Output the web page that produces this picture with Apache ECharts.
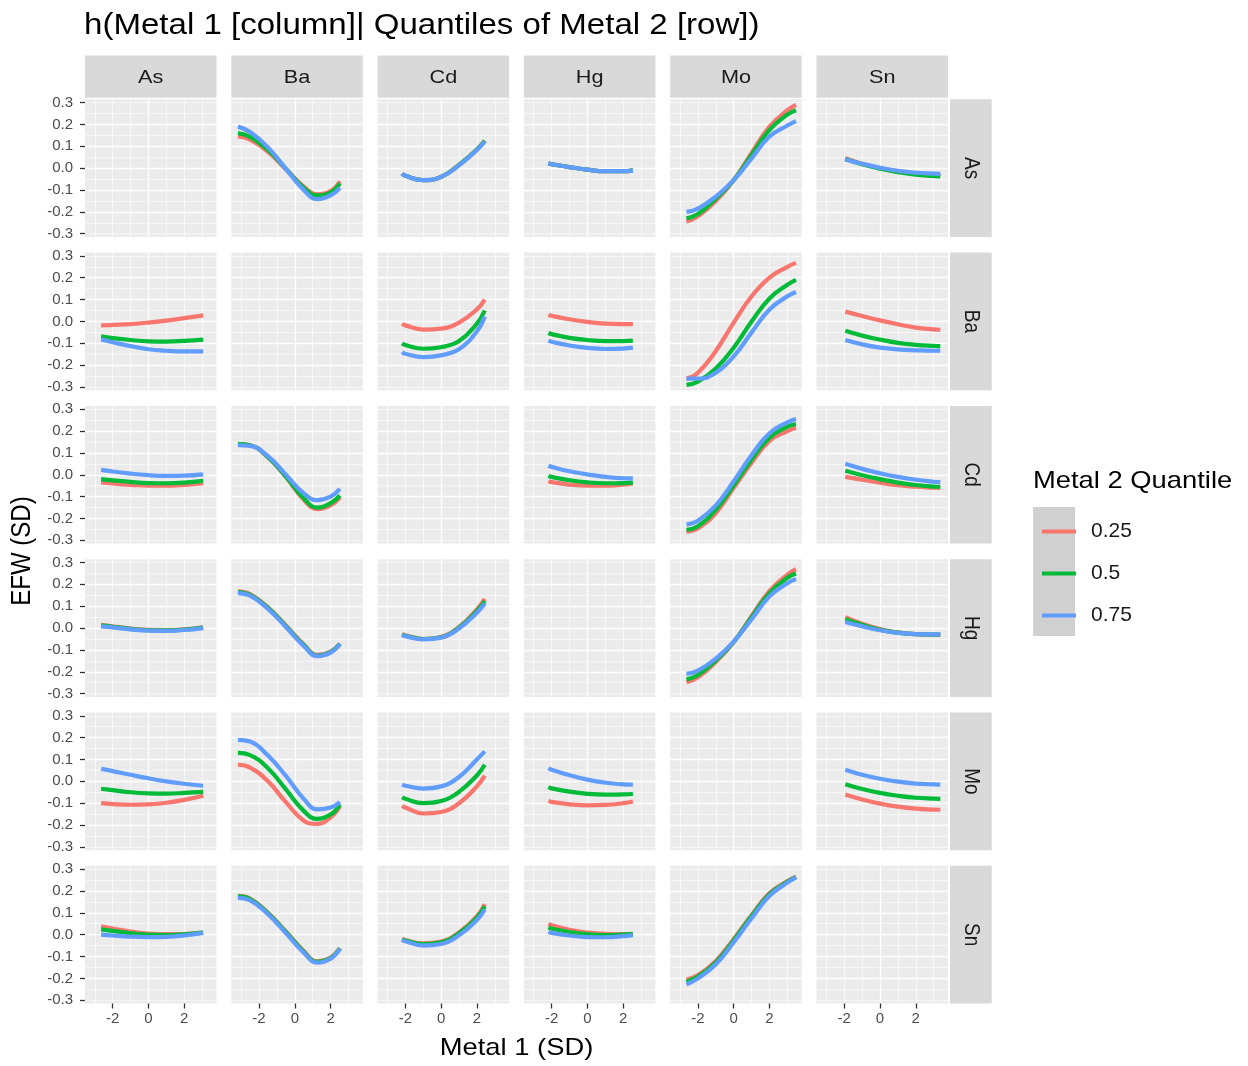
<!DOCTYPE html>
<html><head><meta charset="utf-8">
<script src="https://cdn.jsdelivr.net/npm/echarts@6/dist/echarts.min.js"></script>
<style>html,body{margin:0;padding:0;background:#fff}#c{width:1248px;height:1066px}</style>
</head><body><div id="c"></div>
<script>
// ---------- data ----------
const metals = ['As','Ba','Cd','Hg','Mo','Sn'];
const quantiles = ['0.25','0.5','0.75'];
const colors = ['#F8766D','#00BA38','#619CFF'];
const xTicks = [-2, 0, 2];
const yTicks = [-0.3, -0.2, -0.1, 0, 0.1, 0.2, 0.3];

// x positions (Metal 1, SD) at which each column's curves were read
const x_As = [-2.65, -2, -1, 0, 1, 2, 3.05];
const x_Ba = [-3.18, -2.5, -1.5, -0.5, 0.5, 1.25, 2, 2.52];
const x_Cd = [-2.18, -2, -1, 0, 1, 2, 2.44];
const x_Hg = [-2.18, -2, -1, 0, 1, 2, 2.54];
const x_Mo = [-2.64, -2, -1, 0, 1, 2, 3, 3.48];
const x_Sn = [-1.94, -1, 0, 1, 2, 3, 3.37];

// Rows = Metal 2; each array lists the columns As, Ba, Cd, Hg, Mo, Sn (Metal 1)
const As_q25 = [null,
  [0.145, 0.13, 0.075, -0.005, -0.085, -0.12, -0.105, -0.06],
  [-0.025, -0.035, -0.055, -0.04, 0.015, 0.085, 0.125],
  [0.022, 0.018, 0.005, -0.007, -0.014, -0.014, -0.01],
  [-0.245, -0.22, -0.15, -0.055, 0.07, 0.19, 0.265, 0.29],
  [0.045, 0.02, 0.0, -0.015, -0.025, -0.03, -0.035]];
const As_q50 = [null,
  [0.16, 0.143, 0.083, -0.003, -0.09, -0.125, -0.112, -0.07],
  [-0.025, -0.035, -0.055, -0.04, 0.015, 0.085, 0.125],
  [0.022, 0.018, 0.005, -0.007, -0.014, -0.014, -0.01],
  [-0.23, -0.21, -0.14, -0.055, 0.06, 0.175, 0.245, 0.265],
  [0.042, 0.018, -0.002, -0.018, -0.03, -0.036, -0.038]];
const As_q75 = [null,
  [0.19, 0.165, 0.095, -0.003, -0.1, -0.142, -0.125, -0.09],
  [-0.025, -0.035, -0.055, -0.04, 0.013, 0.083, 0.122],
  [0.022, 0.018, 0.005, -0.007, -0.014, -0.014, -0.01],
  [-0.2, -0.185, -0.13, -0.055, 0.045, 0.145, 0.195, 0.215],
  [0.04, 0.02, 0.002, -0.012, -0.021, -0.025, -0.026]];

const Ba_q25 = [
  [-0.018, -0.016, -0.012, -0.005, 0.004, 0.015, 0.028],
  null,
  [-0.01, -0.018, -0.037, -0.033, -0.005, 0.055, 0.1],
  [0.03, 0.026, 0.01, -0.002, -0.01, -0.012, -0.012],
  [-0.262, -0.235, -0.135, -0.005, 0.115, 0.2, 0.25, 0.268],
  [0.045, 0.025, 0.005, -0.013, -0.028, -0.036, -0.038]];
const Ba_q50 = [
  [-0.068, -0.076, -0.085, -0.091, -0.092, -0.089, -0.083],
  null,
  [-0.1, -0.108, -0.125, -0.118, -0.09, -0.01, 0.05],
  [-0.053, -0.058, -0.075, -0.085, -0.09, -0.09, -0.088],
  [-0.29, -0.275, -0.215, -0.12, 0.0, 0.105, 0.168, 0.19],
  [-0.043, -0.065, -0.083, -0.098, -0.107, -0.112, -0.113]];
const Ba_q75 = [
  [-0.082, -0.095, -0.113, -0.127, -0.134, -0.137, -0.137],
  null,
  [-0.14, -0.148, -0.163, -0.155, -0.127, -0.045, 0.023],
  [-0.088, -0.093, -0.11, -0.121, -0.126, -0.124, -0.12],
  [-0.262, -0.262, -0.235, -0.16, -0.05, 0.055, 0.115, 0.135],
  [-0.085, -0.105, -0.12, -0.128, -0.132, -0.134, -0.134]];

const Cd_q25 = [
  [-0.035, -0.04, -0.046, -0.05, -0.05, -0.046, -0.038],
  [0.14, 0.135, 0.08, -0.01, -0.115, -0.157, -0.14, -0.105],
  null,
  [-0.03, -0.034, -0.045, -0.05, -0.05, -0.045, -0.04],
  [-0.26, -0.245, -0.175, -0.06, 0.055, 0.155, 0.2, 0.215],
  [-0.01, -0.023, -0.036, -0.048, -0.055, -0.059, -0.06]];
const Cd_q50 = [
  [-0.02, -0.026, -0.033, -0.038, -0.039, -0.036, -0.028],
  [0.14, 0.135, 0.08, -0.008, -0.108, -0.15, -0.13, -0.095],
  null,
  [-0.005, -0.01, -0.025, -0.035, -0.039, -0.038, -0.036],
  [-0.252, -0.235, -0.16, -0.048, 0.07, 0.17, 0.22, 0.232],
  [0.018, -0.002, -0.02, -0.036, -0.047, -0.054, -0.055]];
const Cd_q75 = [
  [0.022, 0.015, 0.005, -0.002, -0.005, -0.004, 0.002],
  [0.135, 0.132, 0.085, 0.0, -0.085, -0.116, -0.1, -0.065],
  null,
  [0.041, 0.036, 0.016, 0.002, -0.01, -0.016, -0.017],
  [-0.228, -0.21, -0.14, -0.03, 0.09, 0.19, 0.24, 0.255],
  [0.05, 0.027, 0.007, -0.01, -0.023, -0.032, -0.034]];

const Hg_q25 = [
  [0.015, 0.008, -0.002, -0.008, -0.01, -0.006, 0.003],
  [0.168, 0.155, 0.095, 0.012, -0.075, -0.123, -0.108, -0.072],
  [-0.028, -0.033, -0.05, -0.04, 0.005, 0.085, 0.133],
  null,
  [-0.248, -0.225, -0.155, -0.065, 0.055, 0.17, 0.245, 0.27],
  [0.05, 0.02, -0.005, -0.02, -0.028, -0.031, -0.031]];
const Hg_q50 = [
  [0.012, 0.006, -0.004, -0.01, -0.011, -0.007, 0.002],
  [0.165, 0.152, 0.092, 0.009, -0.078, -0.126, -0.11, -0.072],
  [-0.03, -0.035, -0.05, -0.042, 0.002, 0.078, 0.123],
  null,
  [-0.235, -0.215, -0.148, -0.063, 0.05, 0.16, 0.23, 0.25],
  [0.04, 0.015, -0.008, -0.021, -0.028, -0.03, -0.03]];
const Hg_q75 = [
  [0.008, 0.003, -0.006, -0.012, -0.013, -0.009, 0.0],
  [0.16, 0.148, 0.088, 0.005, -0.082, -0.128, -0.112, -0.073],
  [-0.032, -0.037, -0.052, -0.044, -0.002, 0.07, 0.112],
  null,
  [-0.21, -0.195, -0.14, -0.062, 0.04, 0.145, 0.205, 0.224],
  [0.028, 0.008, -0.01, -0.022, -0.028, -0.029, -0.029]];

const Mo_q25 = [
  [-0.1, -0.104, -0.107, -0.105, -0.098, -0.085, -0.066],
  [0.076, 0.063, 0.0, -0.095, -0.18, -0.195, -0.165, -0.114],
  [-0.113, -0.12, -0.147, -0.14, -0.1, -0.023, 0.026],
  [-0.09, -0.094, -0.105, -0.11, -0.108, -0.1, -0.092],
  null,
  [-0.06, -0.083, -0.102, -0.116, -0.125, -0.129, -0.13]];
const Mo_q50 = [
  [-0.034, -0.04, -0.05, -0.055, -0.056, -0.053, -0.048],
  [0.13, 0.12, 0.06, -0.037, -0.135, -0.172, -0.152, -0.106],
  [-0.073, -0.08, -0.1, -0.09, -0.048, 0.027, 0.076],
  [-0.026, -0.032, -0.047, -0.057, -0.061, -0.06, -0.058],
  null,
  [-0.013, -0.035, -0.053, -0.066, -0.075, -0.079, -0.08]];
const Mo_q75 = [
  [0.057, 0.047, 0.03, 0.014, 0.0, -0.011, -0.02],
  [0.19, 0.182, 0.118, 0.025, -0.08, -0.128, -0.12, -0.095],
  [-0.015, -0.02, -0.033, -0.023, 0.02, 0.1, 0.137],
  [0.06, 0.053, 0.028, 0.008, -0.006, -0.014, -0.015],
  null,
  [0.053, 0.03, 0.012, -0.001, -0.01, -0.014, -0.015]];

const Sn_q25 = [
  [0.038, 0.028, 0.014, 0.005, 0.002, 0.003, 0.009],
  [0.178, 0.165, 0.1, 0.015, -0.075, -0.122, -0.105, -0.062],
  [-0.02, -0.025, -0.04, -0.032, 0.01, 0.085, 0.14],
  [0.049, 0.043, 0.022, 0.01, 0.004, 0.003, 0.004],
  [-0.205, -0.185, -0.12, -0.02, 0.09, 0.19, 0.245, 0.265],
  null];
const Sn_q50 = [
  [0.024, 0.017, 0.006, 0.0, -0.002, 0.001, 0.009],
  [0.175, 0.163, 0.098, 0.012, -0.078, -0.124, -0.107, -0.063],
  [-0.022, -0.027, -0.043, -0.035, 0.006, 0.078, 0.13],
  [0.033, 0.028, 0.012, 0.002, -0.002, 0.0, 0.002],
  [-0.215, -0.192, -0.127, -0.026, 0.085, 0.185, 0.242, 0.263],
  null];
const Sn_q75 = [
  [0.0, -0.004, -0.009, -0.011, -0.01, -0.004, 0.008],
  [0.168, 0.157, 0.093, 0.007, -0.083, -0.128, -0.11, -0.065],
  [-0.025, -0.03, -0.05, -0.043, -0.003, 0.067, 0.115],
  [0.012, 0.008, -0.004, -0.011, -0.012, -0.007, -0.002],
  [-0.228, -0.2, -0.135, -0.035, 0.075, 0.178, 0.238, 0.262],
  null];

// ---------- assembly ----------
const xByCol = [x_As, x_Ba, x_Cd, x_Hg, x_Mo, x_Sn];
const rowsData = [
  [As_q25, As_q50, As_q75],
  [Ba_q25, Ba_q50, Ba_q75],
  [Cd_q25, Cd_q50, Cd_q75],
  [Hg_q25, Hg_q50, Hg_q75],
  [Mo_q25, Mo_q50, Mo_q75],
  [Sn_q25, Sn_q50, Sn_q75]
];

const FONT = 'Liberation Sans';
const SX = 1.14; // horizontal stretch of the reference's lettering
const P = {left: 85, top: 99.3, w: 131.5, h: 137.7, dx: 146.3, dy: 153.3};
const X_MIN = -3.55, X_MAX = 3.8, Y_MIN = -0.315, Y_MAX = 0.315;

const isTick = (v, list) => list.some(t => Math.abs(t - v) < 1e-6);

const grids = [], xAxes = [], yAxes = [], series = [], graphics = [];

for (let r = 0; r < 6; r++) {
  for (let c = 0; c < 6; c++) {
    const g = r * 6 + c;
    grids.push({
      left: P.left + c * P.dx, top: P.top + r * P.dy, width: P.w, height: P.h,
      show: true, backgroundColor: '#EBEBEB', borderWidth: 0
    });
    const bottom = r === 5, leftCol = c === 0;
    // major x
    xAxes.push({
      gridIndex: g, type: 'value', min: X_MIN, max: X_MAX, splitNumber: 4, position: 'bottom',
      axisLine: {show: false, onZero: false},
      axisTick: {show: bottom, customValues: xTicks, length: 5, lineStyle: {color: '#333333', width: 1.3}},
      axisLabel: {show: bottom, margin: 8, showMinLabel: false, showMaxLabel: false,
        color: '#4D4D4D', fontSize: 15, fontFamily: FONT,
        formatter: v => isTick(v, xTicks) ? String(Math.round(v)) : ''},
      splitLine: {show: true, showMinLine: false, showMaxLine: false, lineStyle: {color: '#FFFFFF', width: 1.3}}
    });
    // minor x
    xAxes.push({
      gridIndex: g, type: 'value', min: X_MIN, max: X_MAX, splitNumber: 7,
      axisLine: {show: false, onZero: false}, axisTick: {show: false}, axisLabel: {show: false},
      splitLine: {show: true, showMinLine: false, showMaxLine: false, lineStyle: {color: '#FFFFFF', width: 0.6}}
    });
    // major y
    yAxes.push({
      gridIndex: g, type: 'value', min: Y_MIN, max: Y_MAX, splitNumber: 6, position: 'left',
      axisLine: {show: false, onZero: false},
      axisTick: {show: leftCol, customValues: yTicks, length: 5, lineStyle: {color: '#333333', width: 1.3}},
      axisLabel: {show: leftCol, margin: 12, showMinLabel: false, showMaxLabel: false,
        color: '#4D4D4D', fontSize: 15, fontFamily: FONT,
        formatter: v => isTick(v, yTicks) ? (Math.abs(v) < 1e-9 ? 0 : v).toFixed(1) : ''},
      splitLine: {show: true, showMinLine: false, showMaxLine: false, lineStyle: {color: '#FFFFFF', width: 1.3}}
    });
    // minor y
    yAxes.push({
      gridIndex: g, type: 'value', min: Y_MIN, max: Y_MAX, splitNumber: 12,
      axisLine: {show: false, onZero: false}, axisTick: {show: false}, axisLabel: {show: false},
      splitLine: {show: true, showMinLine: false, showMaxLine: false, lineStyle: {color: '#FFFFFF', width: 0.6}}
    });

    for (let q = 0; q < 3; q++) {
      const ys = rowsData[r][q][c];
      if (!ys) continue;
      const xs = xByCol[c];
      series.push({
        type: 'line', name: quantiles[q],
        xAxisIndex: 2 * g, yAxisIndex: 2 * g,
        data: xs.map((x, i) => [x, ys[i]]),
        smooth: 0.45, symbol: 'none', silent: true, z: 3 + q,
        lineStyle: {width: 4.2, color: colors[q], cap: 'butt'},
        itemStyle: {color: colors[q]}
      });
    }
  }
}

// strips
for (let c = 0; c < 6; c++) {
  const x0 = P.left + c * P.dx;
  graphics.push({type: 'rect', shape: {x: x0, y: 55.5, width: P.w, height: 42.3}, style: {fill: '#D9D9D9'}, silent: true});
  graphics.push({type: 'text', x: x0 + P.w / 2, y: 77.5, scaleX: SX, silent: true,
    style: {text: metals[c], fontSize: 19, fontFamily: FONT, fill: '#1A1A1A', align: 'center', verticalAlign: 'middle'}});
}
for (let r = 0; r < 6; r++) {
  const y0 = P.top + r * P.dy;
  graphics.push({type: 'rect', shape: {x: 950, y: y0, width: 41.7, height: P.h}, style: {fill: '#D9D9D9'}, silent: true});
  graphics.push({type: 'text', x: 970.5, y: y0 + P.h / 2, rotation: -Math.PI / 2, scaleY: SX, silent: true,
    style: {text: metals[r], fontSize: 19, fontFamily: FONT, fill: '#1A1A1A', align: 'center', verticalAlign: 'middle'}});
}
// title
graphics.push({type: 'text', x: 84, y: 26, scaleX: SX, silent: true,
  style: {text: 'h(Metal 1 [column]| Quantiles of Metal 2 [row])', fontSize: 29, fontFamily: FONT, fill: '#000',
    align: 'left', verticalAlign: 'middle'}});
// axis titles
graphics.push({type: 'text', x: 516.5, y: 1048, scaleX: SX, silent: true,
  style: {text: 'Metal 1 (SD)', fontSize: 24, fontFamily: FONT, fill: '#000', align: 'center', verticalAlign: 'middle'}});
graphics.push({type: 'text', x: 22, y: 551, rotation: Math.PI / 2, scaleY: SX, silent: true,
  style: {text: 'EFW (SD)', fontSize: 24, fontFamily: FONT, fill: '#000', align: 'center', verticalAlign: 'middle'}});
// legend title and key background
graphics.push({type: 'text', x: 1033, y: 481, scaleX: SX, silent: true,
  style: {text: 'Metal 2 Quantile', fontSize: 24, fontFamily: FONT, fill: '#000', align: 'left', verticalAlign: 'middle'}});
graphics.push({type: 'rect', z: -1, shape: {x: 1033, y: 507, width: 42, height: 129}, style: {fill: '#D0D0D0'}, silent: true});

const chart = echarts.init(document.getElementById('c'), null, {renderer: 'canvas'});
chart.setOption({
  animation: false,
  backgroundColor: '#FFFFFF',
  legend: {
    data: quantiles, orient: 'vertical', left: 1037, top: 516,
    icon: 'rect', itemWidth: 34, itemHeight: 4, itemGap: 21,
    selectedMode: false,
    textStyle: {fontSize: 21, color: '#1A1A1A', fontFamily: FONT, padding: [0, 0, 0, 10]}
  },
  grid: grids, xAxis: xAxes, yAxis: yAxes, series: series,
  graphic: {elements: graphics}
});
</script>
</body></html>
